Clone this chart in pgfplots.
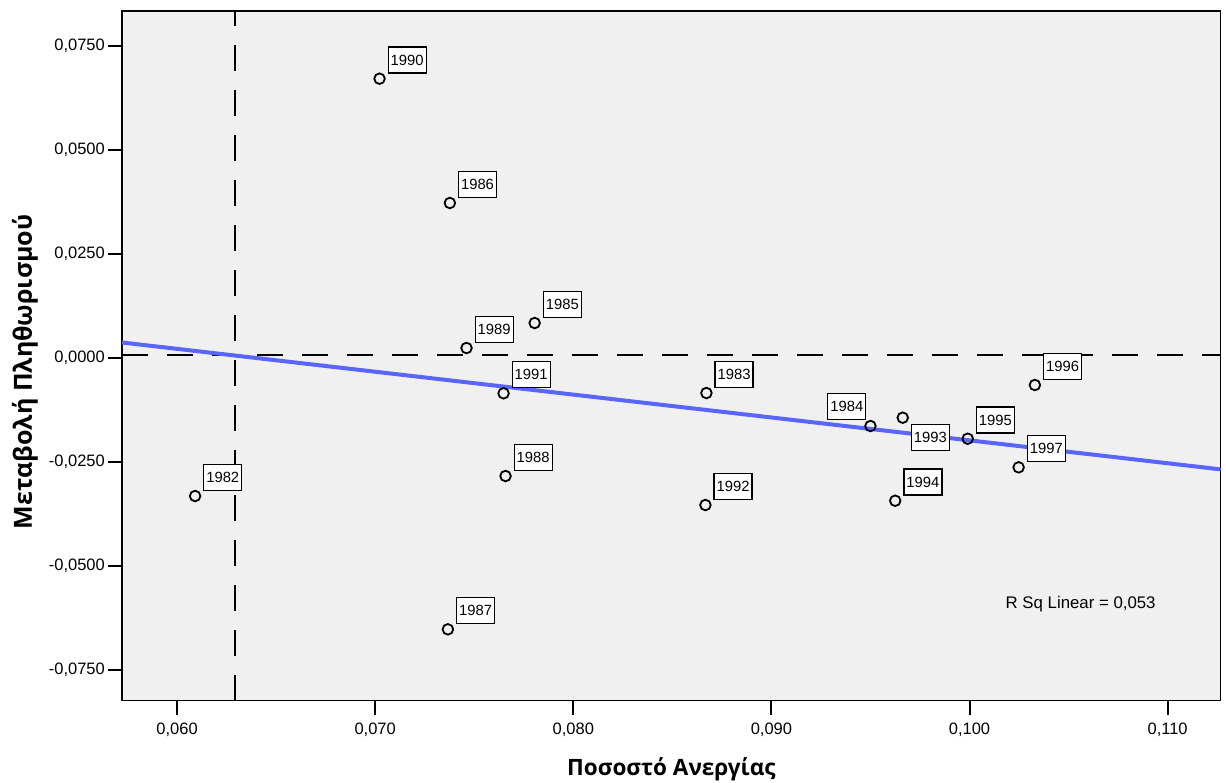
\documentclass[border=0pt]{standalone}
\usepackage{pgfplots}
\pgfplotsset{compat=1.18}
\usepackage{fontspec}
\setmainfont{Liberation Sans}
\newfontfamily\labfont{Open Sans}
\definecolor{bggray}{HTML}{F0F0F0}
\definecolor{fitblue}{RGB}{90,102,250}
\tikzset{labelbox/.style={draw=black, fill=white, line width=1.3pt, inner sep=0pt,
    minimum width=38pt, minimum height=26pt, text=black,
    font=\fontsize{14.8}{16}\selectfont}}
\pgfplotstableread{
x y label
0.06091 -0.03325 1982
0.08672 -0.00849 1983
0.07805 0.00834 1985
0.07377 0.03719 1986
0.07367 -0.06529 1987
0.07658 -0.02844 1988
0.07461 0.00233 1989
0.07022 0.06707 1990
0.07648 -0.00856 1991
0.08667 -0.03541 1992
0.09625 -0.03438 1994
0.09991 -0.01947 1995
0.10330 -0.00656 1996
0.10248 -0.02635 1997
}\maindata
\pgfplotstableread{
x y label
0.09500 -0.01642 1984
}\dataA
\pgfplotstableread{
x y label
0.09663 -0.01442 1993
}\dataB
\begin{document}
\begin{tikzpicture}
\begin{axis}[name=ax, scale only axis, width=1098.7pt, height=689.7pt,
  xmin=0.05722, xmax=0.11268, ymin=-0.08245, ymax=0.08334,
  axis background/.style={fill=bggray},
  axis line style={line width=1.3pt},
  tick align=outside, xtick pos=bottom, ytick pos=left,
  major tick length=14pt,
  tick style={line width=2pt, black},
  xtick={0.06,0.07,0.08,0.09,0.1,0.11},
  xticklabels={{0,060},{0,070},{0,080},{0,090},{0,100},{0,110}},
  ytick={-0.075,-0.05,-0.025,0,0.025,0.05,0.075},
  yticklabels={{-0,0750},{-0,0500},{-0,0250},{0,0000},{0,0250},{0,0500},{0,0750}},
  ticklabel style={font=\fontsize{16.5}{18}\selectfont},
  xticklabel style={inner sep=0pt, yshift=-8pt},
  yticklabel style={inner sep=0pt, xshift=-3pt},
]
\addplot[only marks, mark=o, mark size=5.3pt, mark options={line width=1.8pt, black},
  nodes near coords, point meta=explicit symbolic,
  every node near coord/.style={labelbox, anchor=south west, xshift=8pt, yshift=5pt}]
  table[meta=label] {\maindata};
\addplot[only marks, mark=o, mark size=5.3pt, mark options={line width=1.8pt, black},
  nodes near coords, point meta=explicit symbolic,
  every node near coord/.style={labelbox, anchor=south east, xshift=-4pt, yshift=6pt}]
  table[meta=label] {\dataA};
\addplot[only marks, mark=o, mark size=5.3pt, mark options={line width=1.8pt, black},
  nodes near coords, point meta=explicit symbolic,
  every node near coord/.style={labelbox, anchor=north west, xshift=8pt, yshift=-6pt}]
  table[meta=label] {\dataB};
% reference lines
\addplot[black, line width=2pt, dash pattern=on 25.7pt off 19.3pt] coordinates {(0.05722,0.0006) (0.11268,0.0006)};
\addplot[black, line width=2pt, dash pattern=on 25.7pt off 19.3pt] coordinates {(0.0629,-0.08245) (0.0629,0.08334)};
% fit line
\addplot[fitblue, line width=4pt] coordinates {(0.05722,0.00366) (0.11268,-0.02684)};
\node[font=\fontsize{16.8}{18}\selectfont] at (axis cs:0.10561,-0.0592) {R Sq Linear = 0,053};
\end{axis}
\node[anchor=base, font=\labfont\bfseries\fontsize{22.5}{24}\selectfont] at ([yshift=-75pt]ax.south) {Ποσοστό Ανεργίας};
\node[anchor=base, rotate=90, font=\labfont\bfseries\fontsize{25}{27}\selectfont] at ([xshift=-90pt, yshift=-16pt]ax.west) {Μεταβολή Πληθωρισμού};
\pgfresetboundingbox
\path[use as bounding box] ([shift={(-122pt,-81.3pt)}]ax.south west) rectangle ([shift={(5.3pt,11pt)}]ax.north east);
\end{tikzpicture}
\end{document}
